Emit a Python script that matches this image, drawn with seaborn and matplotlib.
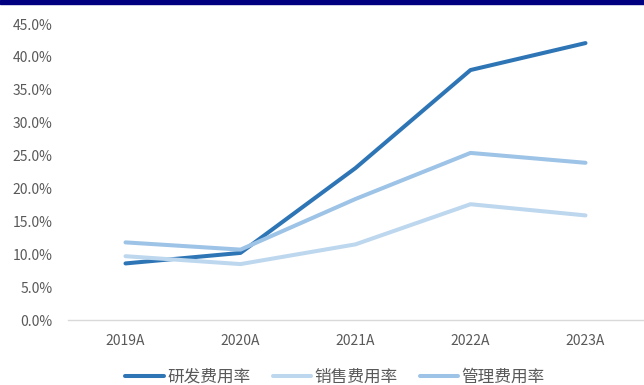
import matplotlib
matplotlib.use("Agg")
import matplotlib.pyplot as plt
import seaborn as sns
import pandas as pd
from matplotlib.patches import Rectangle
from matplotlib.ticker import FuncFormatter, MultipleLocator

years = ["2019A", "2020A", "2021A", "2022A", "2023A"]
rd_rate = [8.6, 10.2, 23.1, 38.0, 42.1]
sales_rate = [9.7, 8.5, 11.5, 17.6, 15.9]
admin_rate = [11.8, 10.7, 18.4, 25.4, 23.9]
series_names = ["研发费用率", "销售费用率", "管理费用率"]
colors = ["#2E75B6", "#BDD7EE", "#9DC3E6"]

df = pd.DataFrame({"year": years * 3,
                   "value": rd_rate + sales_rate + admin_rate,
                   "series": [series_names[0]] * 5 + [series_names[1]] * 5 + [series_names[2]] * 5})

sns.set_style("white")
plt.rcParams["font.family"] = ["Noto Sans CJK SC", "DejaVu Sans"]

fig = plt.figure(figsize=(6.44, 3.85), dpi=100)
ax = fig.add_axes([68 / 644, 1 - 320 / 385, 575 / 644, (320 - 24) / 385])

sns.lineplot(data=df, x="year", y="value", hue="series", palette=colors,
             hue_order=series_names, linewidth=2.9, ax=ax, sort=False,
             solid_capstyle="round", solid_joinstyle="round", legend=True)

ax.set_xlim(-0.5, 4.5)
ax.set_ylim(0, 45)
ax.yaxis.set_major_locator(MultipleLocator(5))
ax.yaxis.set_major_formatter(FuncFormatter(lambda v, p: f"{v:.1f}%"))
ax.set_xlabel("")
ax.set_ylabel("")
for s in ["top", "right", "left"]:
    ax.spines[s].set_visible(False)
ax.spines["bottom"].set_color("#D9D9D9")
ax.spines["bottom"].set_linewidth(1.0)
ax.tick_params(axis="y", length=0, pad=11, labelsize=10, labelcolor="#595959")
ax.tick_params(axis="x", length=0, pad=10, labelsize=10, labelcolor="#595959")

leg = ax.legend(loc="center", bbox_to_anchor=(335 / 644, 1 - 377 / 385),
                bbox_transform=fig.transFigure, ncol=3, frameon=False,
                fontsize=12, handlelength=2.3, handletextpad=0.2,
                columnspacing=1.35, labelcolor="#595959")
for line in leg.get_lines():
    line.set_linewidth(2.9)

fig.patches.append(Rectangle((0, 1 - 4 / 385), 1, 4 / 385, transform=fig.transFigure,
                             color="#000080", zorder=10))

fig.savefig("out.png", dpi=100)
